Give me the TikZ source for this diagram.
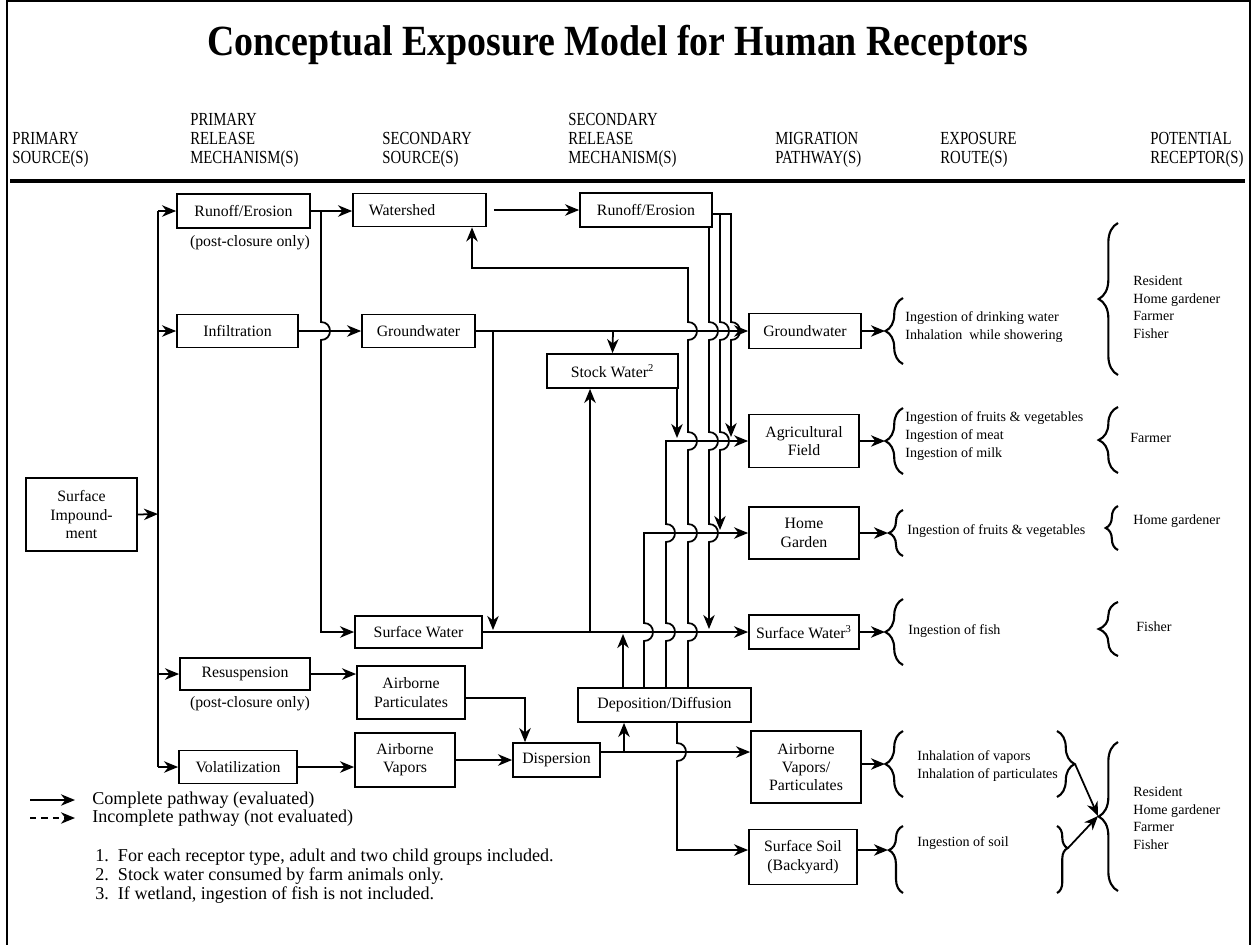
\documentclass[tikz,border=0pt]{standalone}
\usepackage{fontspec}
\setmainfont{Liberation Serif}
\newfontfamily\narrowfont[FakeStretch=0.8]{Liberation Serif}
\newfontfamily\titlefont[FakeStretch=0.88]{Liberation Serif}
\usetikzlibrary{arrows.meta,decorations.pathreplacing}
\tikzset{
  box/.style={draw,line width=1pt,align=center,inner sep=1pt,font=\fontsize{9}{10.4}\selectfont},
  sz/.style 2 args={minimum width=#1*0.02cm,minimum height=#2*0.02cm},
  conn/.style={line width=1pt},
  arr/.style={conn,-{Stealth[length=8pt,width=6.5pt,inset=2.5pt]}},
  hdr/.style={inner sep=0pt,align=left,anchor=south west,font=\narrowfont\fontsize{10.5}{10.8}\selectfont},
  txt/.style={inner sep=0pt,align=left,anchor=west,font=\fontsize{8}{10}\selectfont},
  remark/.style={inner sep=0pt,font=\fontsize{9}{10.4}\selectfont},
  legendtxt/.style={inner sep=0pt,align=left,anchor=west,font=\fontsize{10.3}{10.8}\selectfont},
  curly/.style={decorate,decoration={brace,amplitude=#1},line width=1.2pt},
  curlyat/.style 2 args={decorate,decoration={brace,amplitude=#1,aspect=#2},line width=1.2pt},
  hopd/.style args={#1/#2}{insert path={-- (#1,#2-9) .. controls (#1+12,#2-9) and (#1+12,#2+9) .. (#1,#2+9)}},
  hopu/.style args={#1/#2}{insert path={-- (#1,#2+9) .. controls (#1+12,#2+9) and (#1+12,#2-9) .. (#1,#2-9)}},
}
\begin{document}
\begin{tikzpicture}[x=0.02cm,y=-0.02cm]
\useasboundingbox (0,0) rectangle (1257,944);
% frame and title
\draw[line width=1.2pt] (7,950) -- (7,1) -- (1250,1) -- (1250,950);
\node[font=\titlefont\bfseries\fontsize{24.5}{26}\selectfont] (title) at (618,45) {Conceptual Exposure Model for Human Receptors};

% column headings
\node[hdr] (hA) at (12,168) {PRIMARY\\SOURCE(S)};
\node[hdr] (hB) at (190,168) {PRIMARY\\RELEASE\\MECHANISM(S)};
\node[hdr] (hC) at (382,168) {SECONDARY\\SOURCE(S)};
\node[hdr] (hD) at (568,168) {SECONDARY\\RELEASE\\MECHANISM(S)};
\node[hdr] (hE) at (775,168) {MIGRATION\\PATHWAY(S)};
\node[hdr] (hF) at (940,168) {EXPOSURE\\ROUTE(S)};
\node[hdr] (hG) at (1150,168) {POTENTIAL\\RECEPTOR(S)};
\draw[line width=2pt] (10,181) -- (1245,181);

% boxes
\node[box,sz={111}{73}] (si) at (81.5,514.5) {Surface\\Impound-\\ment};
\node[box,sz={133}{34}] (ro1) at (243.5,211) {Runoff/Erosion};
\node[remark] (pc1) at (250,243) {(post-closure only)};
\node[box,sz={121}{33}] (inf) at (237.5,331) {Infiltration};
\node[box,sz={130}{32}] (res) at (245,674) {Resuspension};
\node[remark] (pc2) at (250,704) {(post-closure only)};
\node[box,sz={118}{33}] (vol) at (238,767) {Volatilization};

\node[box,sz={133}{33}] (ws) at (419.5,210) {Watershed\hspace{2.2em}};
\node[box,sz={113}{33}] (gw1) at (418.5,331) {Groundwater};
\node[box,sz={127}{32}] (sw1) at (418.5,632) {Surface Water};
\node[box,sz={108}{53}] (ap) at (411,692.5) {Airborne\\Particulates};
\node[box,sz={100}{54}] (av) at (405,760) {Airborne\\Vapors};

\node[box,sz={132}{34}] (ro2) at (646,210) {Runoff/Erosion};
\node[box,sz={131}{34}] (stk) at (612.5,371) {Stock Water\textsuperscript{2}};
\node[box,sz={173}{34}] (dd) at (664.5,705) {Deposition/Diffusion};
\node[box,sz={87}{34}] (disp) at (556.5,760) {Dispersion};

\node[box,sz={112}{35}] (gw2) at (805,331) {Groundwater};
\node[box,sz={110}{53}] (ag) at (804,441) {Agricultural\\Field};
\node[box,sz={110}{52}] (hg) at (804,533) {Home\\Garden};
\node[box,sz={110}{34}] (sw2) at (804,632) {Surface Water\textsuperscript{3}};
\node[box,sz={110}{72}] (avp) at (806,767) {Airborne\\Vapors/\\Particulates};
\node[box,sz={108}{55}] (ss) at (803,857) {Surface Soil\\(Backyard)};

% primary release trunk
\coordinate (tr) at (158,514);
\draw[arr] (si.east) -- (tr);
\draw[conn] (tr |- ro1.west) -- (tr |- vol.west);
\draw[arr] (tr |- ro1.west) -- (ro1.west);
\draw[arr] (tr |- inf.west) -- (inf.west);
\draw[arr] (tr |- res.west) -- (res.west);
\draw[arr] (tr |- vol.west) -- (vol.west);

% primary release to secondary sources
\draw[arr] (ro1.east) -- (ro1.east -| ws.west);
\draw[arr] (321,211) [hopd=321/331] -- (321,632) -- (sw1.west);
\draw[arr] (inf.east) -- (gw1.west);
\draw[arr] (res.east) -- (res.east -| ap.west);
\draw[arr] (vol.east) -- (vol.east -| av.west);

% secondary sources
\draw[arr] ([xshift=0.14cm]ws.east) -- (ro2.west);
\draw[arr] (gw1.east) -- (gw2.west);
\draw[arr] (sw1.east) -- (sw2.west);
\draw[arr] (493,331) -- (493,630);
\draw[arr] (613,331) -- (stk.north);
\draw[arr] (590,632) -- (stk.south -| 590,0);
\draw[arr] (stk.south -| 677,0) -- (677,438);
\draw[arr] (ap.east |- 0,698) -- (525,698) -- (disp.north -| 525,0);
\draw[arr] (av.east) -- (disp.west);
\draw[arr] (disp.east |- 0,752) -- (avp.west |- 0,752);
\draw[arr] (624,752) -- (dd.south -| 624,0);
\draw[arr] (dd.south -| 677,0) [hopd=677/752] -- (677,850) -- (ss.west |- 0,850);

% runoff/erosion to migration pathways
\draw[arr] (ro2.east |- 0,214) -- (731,214) [hopd=731/331] -- (731,437);
\draw[arr] (720,214) [hopd=720/331] [hopd=720/441] -- (720,530);
\draw[arr] (ro2.south -| 709,0) [hopd=709/331] [hopd=709/441] [hopd=709/533] -- (709,629);

% deposition/diffusion to migration pathways
\draw[arr] (dd.north -| 623,0) -- (623,634);
\draw[arr] (dd.north -| 644,0) [hopu=644/632] -- (644,533) -- (hg.west);
\draw[arr] (dd.north -| 666,0) [hopu=666/632] [hopu=666/533] -- (666,441) -- (ag.west);
\draw[arr] (dd.north -| 688,0) [hopu=688/632] [hopu=688/533] [hopu=688/441] [hopu=688/331] -- (688,268) -- (472,268) -- (ws.south -| 472,0);

% exposure routes
\coordinate (e1) at (885,331);
\coordinate (e2) at (885,441);
\coordinate (e3) at (888,533);
\coordinate (e4) at (885,632);
\coordinate (e5) at (885,764);
\coordinate (e6) at (888,850);
\draw[arr] (gw2.east) -- (e1);
\draw[arr] (ag.east) -- (e2);
\draw[arr] (hg.east) -- (e3);
\draw[arr] (sw2.east) -- (e4);
\draw[arr] (avp.east |- e5) -- (e5);
\draw[arr] (ss.east |- e6) -- (e6);
\draw[curly=10pt] (903,364) -- (903,298);
\draw[curly=10pt] (903,474) -- (903,408);
\draw[curly=8pt] (903,556) -- (903,510);
\draw[curly=10pt] (903,665) -- (903,599);
\draw[curly=10pt] (903,797) -- (903,731);
\draw[curlyat={8pt}{0.64}] (903,893) -- (903,826);
\node[txt] (t1) at (905,327) {Ingestion of drinking water\\Inhalation\ \ while showering};
\node[txt] (t2) at (905,436) {Ingestion of fruits \& vegetables\\Ingestion of meat\\Ingestion of milk};
\node[txt] (t3) at (907,531) {Ingestion of fruits \& vegetables};
\node[txt] (t4) at (908,631) {Ingestion of fish};
\node[txt] (t5) at (917,766) {Inhalation of vapors\\Inhalation of particulates};
\node[txt] (t6) at (917,843) {Ingestion of soil};
\draw[curly=10pt] (1057,731) -- (1057,797);
\draw[curlyat={6pt}{0.33}] (1057,826) -- (1057,893);

% potential receptors
\draw[curly=11pt] (1118,375) -- (1118,223);
\draw[curly=11pt] (1118,473) -- (1118,407);
\draw[curly=7pt] (1118,550) -- (1118,506);
\draw[curly=11pt] (1118,656) -- (1118,602);
\draw[curly=11pt] (1118,891) -- (1118,742);
\coordinate (rv) at (1075,764);
\coordinate (rs) at (1068,848);
\coordinate (rb) at (1098,816);
\draw[arr] (rv) -- (rb);
\draw[arr] (rs) -- (rb);
\node[txt] (r1) at (1133,307) {Resident\\Home gardener\\Farmer\\Fisher};
\node[txt] (r2) at (1130,438) {Farmer};
\node[txt] (r3) at (1133,521) {Home gardener};
\node[txt] (r4) at (1136,627) {Fisher};
\node[txt] (r5) at (1133,818) {Resident\\Home gardener\\Farmer\\Fisher};

% legend and notes
\coordinate (l1a) at (30,800);
\coordinate (l1b) at (75,800);
\coordinate (l2a) at (30,818);
\coordinate (l2b) at (75,818);
\draw[arr] (l1a) -- (l1b);
\draw[arr,dash pattern=on 3.5pt off 3pt] (l2a) -- (l2b);
\node[legendtxt] (lg1) at (92,800) {Complete pathway (evaluated)};
\node[legendtxt] (lg2) at (92,818) {Incomplete pathway (not evaluated)};
\node[legendtxt] (notes) at (95,876) {1.\ \ For each receptor type, adult and two child groups included.\\2.\ \ Stock water consumed by farm animals only.\\3.\ \ If wetland, ingestion of fish is not included.};
\end{tikzpicture}
\end{document}
